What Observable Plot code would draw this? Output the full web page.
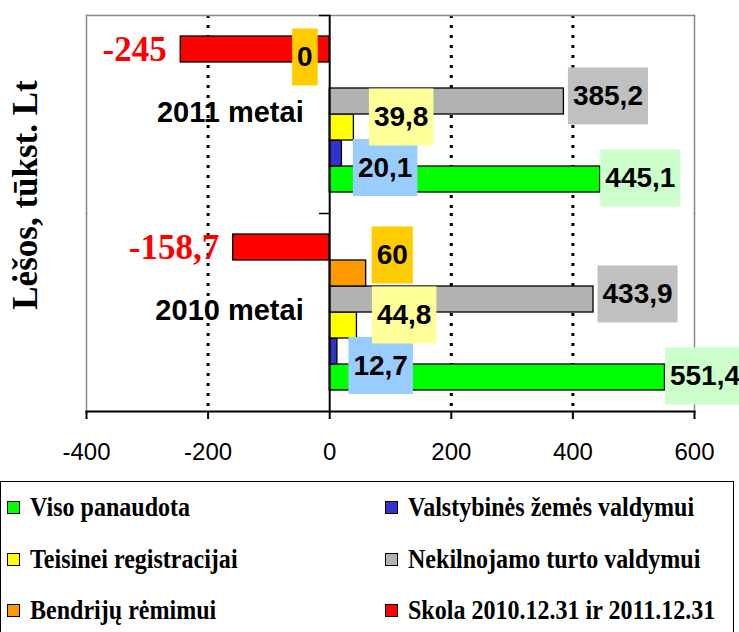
<!DOCTYPE html>
<html>
<head>
<meta charset="utf-8">
<script src="https://cdn.jsdelivr.net/npm/d3@7"></script>
<script src="https://cdn.jsdelivr.net/npm/@observablehq/plot@0.6"></script>
<style>
html, body { margin: 0; padding: 0; background: #fff; overflow: hidden; width: 739px; height: 632px; }
#wrap { position: relative; width: 739px; height: 632px; overflow: hidden; }
#chart { position: absolute; left: 0; top: 0; }
#ytitle { position: absolute; left: 26px; top: 195px; transform: translate(-50%, -50%) rotate(-90deg);
  white-space: nowrap; font: bold 35px "Liberation Serif", "Times New Roman", serif; line-height: 1.1; color: #000; }
#legend { position: absolute; left: 0; top: 481px; width: 734px; height: 200px; border: 1.5px solid #000;
  box-sizing: border-box; background: #fff; }
.item { position: absolute; height: 30px; display: flex; align-items: center; }
.sw { width: 11px; height: 11px; border: 1.5px solid #000; flex: none; }
.lt { font: bold 27px "Liberation Serif", "Times New Roman", serif; transform: scaleX(0.89);
  transform-origin: left center; white-space: nowrap; margin-left: 10px; color: #000; }
</style>
</head>
<body>
<div id="wrap">
  <div id="chart"></div>
  <div id="ytitle">Lėšos, tūkst. Lt</div>
  <div id="legend"></div>
</div>
<script>
// ---- data ----
const years = ["2011 metai", "2010 metai"];
const series = [
  "Viso panaudota",
  "Valstybinės žemės valdymui",
  "Teisinei registracijai",
  "Nekilnojamo turto valdymui",
  "Bendrijų rėmimui",
  "Skola 2010.12.31 ir 2011.12.31"
];
const values2011 = [445.1, 20.1, 39.8, 385.2, 0, -245];
const values2010 = [551.4, 12.7, 44.8, 433.9, 60, -158.7];
const barColors = ["#00FF00", "#3333CC", "#FFFF00", "#B2B2B2", "#FF9900", "#FF0000"];
const boxColors = ["#CCFFCC", "#99CCFF", "#FFFF99", "#C0C0C0", "#FFCC00", null];
const xTicks = [-400, -200, 0, 200, 400, 600];
const gridValues = [-200, 200, 400];

// ---- layout / style ----
const W = 739, H = 481, mL = 86, mR = 45, mT = 14, mB = 70;
const xDomain = [-400, 600];
const xs = d3.scaleLinear().domain(xDomain).range([mL, W - mR]);
const x0 = xs(0);
const sans = "'Liberation Sans', Arial, sans-serif";
const serif = "'Liberation Serif', 'Times New Roman', serif";
const nudge = [ {box: 0, dy: -1}, {box: 11, dy: 14.5}, {box: 15, dy: -10}, {box: 4, dy: -5}, {box: 5.5, dy: -18} ];

const valuesByYear = [values2011, values2010];
const rows = years.flatMap((yr, i) => series.map((s, j) => ({year: yr, series: s, idx: j, value: valuesByYear[i][j]})));
const fmt = v => String(v).replace(".", ",");

const labelMarks = [];
[3, 4, 0, 1, 2].forEach(j => {
  const data = rows.filter(d => d.idx === j);
  const pos = data.filter(d => d.value !== 0);
  const zero = data.filter(d => d.value === 0);
  const common = {fy: "year", y: "series", x: "value", text: d => fmt(d.value), fontFamily: sans,
    fontSize: 28, fontWeight: "bold", fill: "#000", dy: nudge[j].dy, ariaDescription: "boxlabel-" + j};
  if (pos.length) labelMarks.push(Plot.text(pos, {...common, textAnchor: "start", dx: nudge[j].box + 5}));
  if (zero.length) labelMarks.push(Plot.text(zero, {...common, textAnchor: "end", dx: -17}));
});

const chart = Plot.plot({
  width: W, height: H,
  marginLeft: mL, marginRight: mR, marginTop: mT, marginBottom: mB,
  style: {fontFamily: sans, background: "#fff", color: "#000", overflow: "visible"},
  x: {domain: xDomain, axis: null},
  y: {domain: series.slice().reverse(), padding: 0, insetTop: 19.5, insetBottom: 19.5, axis: null},
  fy: {domain: years, padding: 0, axis: null},
  color: {domain: series, range: barColors},
  marks: [
    Plot.ruleX(gridValues, {stroke: "#000", strokeWidth: 3, strokeDasharray: "3,7"}),
    Plot.frame({anchor: "top", stroke: "#888", strokeWidth: 1.5, facetAnchor: "top"}),
    Plot.frame({anchor: "left", stroke: "#888", strokeWidth: 1.5, strokeDasharray: "3,1"}),
    Plot.frame({anchor: "right", stroke: "#888", strokeWidth: 1.5, strokeDasharray: "3,1"}),
    Plot.barX(rows, {fy: "year", y: "series", x1: 0, x2: "value", fill: "series", stroke: "#000", strokeWidth: 1.3}),
    Plot.ruleX([0], {stroke: "#000", strokeWidth: 2}),
    Plot.frame({anchor: "top", stroke: "#000", strokeWidth: 1.5, insetLeft: x0 - 10 - mL, insetRight: (W - mR) - x0}),
    Plot.frame({anchor: "bottom", stroke: "#000", strokeWidth: 2, facetAnchor: "bottom"}),
    Plot.axisX({ticks: xTicks, tickFormat: d => String(d), tickSize: 8, tickPadding: 23, fontSize: 24,
      strokeWidth: 2, label: null, fontFamily: sans}),
    Plot.text(years, {fy: d => d, x: 0, text: d => d, textAnchor: "end", dx: -26, dy: -2,
      fontSize: 29, fontWeight: "bold", fontFamily: sans, fill: "#000"}),
    Plot.text(rows.filter(d => d.value < 0), {fy: "year", y: "series", x: "value", text: d => fmt(d.value),
      textAnchor: "end", dx: -14, fill: "#FF0000", fontFamily: serif, fontSize: 35, fontWeight: "bold"}),
    ...labelMarks
  ]
});

document.getElementById("chart").appendChild(chart);

// background boxes behind value labels
const svgNS = "http://www.w3.org/2000/svg";
chart.querySelectorAll('g[aria-description^="boxlabel-"]').forEach(g => {
  const j = +g.getAttribute("aria-description").split("-")[1];
  g.querySelectorAll("text").forEach(t => {
    const b = t.getBBox();
    const r = document.createElementNS(svgNS, "rect");
    const cy = b.y + b.height / 2;
    r.setAttribute("x", b.x - 5);
    r.setAttribute("width", b.width + 10);
    r.setAttribute("y", cy - 28.5);
    r.setAttribute("height", 57);
    r.setAttribute("fill", boxColors[j]);
    r.setAttribute("stroke", "none");
    const tr = t.getAttribute("transform");
    if (tr) r.setAttribute("transform", tr);
    t.parentNode.insertBefore(r, t);
  });
});

// legend (HTML, below the SVG)
const legend = document.getElementById("legend");
const rowCenters = [25, 77, 128];
const colLefts = [6, 384];
series.forEach((s, k) => {
  const col = k % 2, row = Math.floor(k / 2);
  const item = document.createElement("div");
  item.className = "item";
  item.style.left = colLefts[col] + "px";
  item.style.top = (rowCenters[row] - 15) + "px";
  const sw = document.createElement("div");
  sw.className = "sw";
  sw.style.background = barColors[k];
  const lt = document.createElement("span");
  lt.className = "lt";
  lt.textContent = s;
  item.appendChild(sw);
  item.appendChild(lt);
  legend.appendChild(item);
});
</script>
</body>
</html>
